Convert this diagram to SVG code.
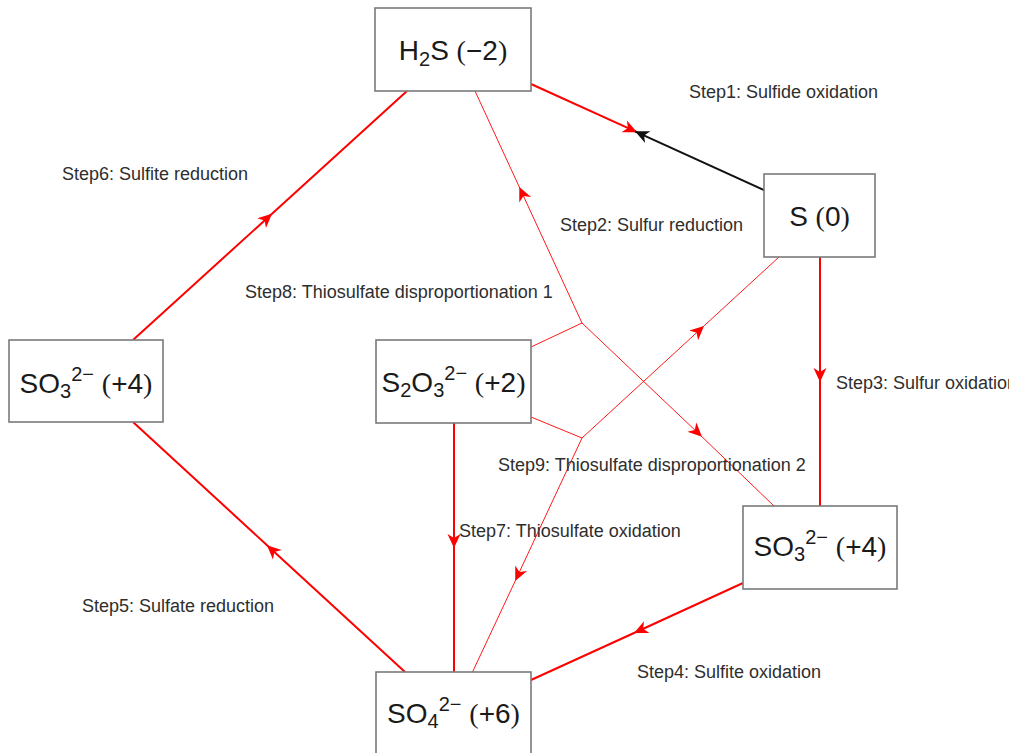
<svg xmlns="http://www.w3.org/2000/svg" width="1009" height="753" viewBox="0 0 1009 753">
<style>
.box{fill:#fff;stroke:#7a7a7a;stroke-width:1.6}
.nl{font-family:"Liberation Sans",Arial,sans-serif;font-size:28px;fill:#1a1a1a;text-anchor:middle}
.sub{font-size:20px}
.par{font-family:"Liberation Serif","Times New Roman",serif;font-weight:300}
.lbl{font-family:"Liberation Sans",Arial,sans-serif;font-size:18px;fill:#2e2e2e}
.thick{fill:none;stroke:#ff0000;stroke-width:2}
.thin{fill:none;stroke:#ff1a1a;stroke-width:1}
.blk{fill:none;stroke:#111;stroke-width:2}
</style>
<defs>
<marker id="ar" markerUnits="userSpaceOnUse" viewBox="-16 -8 18 16" refX="0" refY="0" markerWidth="18" markerHeight="16" orient="auto" overflow="visible">
<path d="M0,0 L-14,-6.5 L-10,0 L-14,6.5 Z" fill="#ff0000"/>
</marker>
<marker id="ak" markerUnits="userSpaceOnUse" viewBox="-16 -8 18 16" refX="0" refY="0" markerWidth="18" markerHeight="16" orient="auto" overflow="visible">
<path d="M0,0 L-14,-6.5 L-10,0 L-14,6.5 Z" fill="#111"/>
</marker>
</defs>
<rect width="1009" height="753" fill="#fff"/>
<g id="connectors">
<!-- Step1 -->
<line class="thick" x1="531" y1="84" x2="637" y2="132.2" marker-end="url(#ar)"/>
<line class="blk" x1="764" y1="190" x2="635" y2="131.3" marker-end="url(#ak)"/>
<!-- Step3 -->
<polyline class="thick" points="820,257 820,382 820,506" marker-mid="url(#ar)"/>
<!-- Step4 -->
<polyline class="thick" points="743,583 634,633 531,680" marker-mid="url(#ar)"/>
<!-- Step5 -->
<polyline class="thick" points="405,672 267,545.2 133,422" marker-mid="url(#ar)"/>
<!-- Step6 -->
<polyline class="thick" points="133,340 272,213.7 407,91" marker-mid="url(#ar)"/>
<!-- Step7 -->
<polyline class="thick" points="454,423 454,548 454,672" marker-mid="url(#ar)"/>
<!-- Step8 -->
<line class="thin" x1="531" y1="347" x2="582" y2="323"/>
<polyline class="thin" points="582,323 519.3,187 475,91" marker-mid="url(#ar)"/>
<polyline class="thin" points="582,323 702,436.8 774,506" marker-mid="url(#ar)"/>
<!-- Step9 -->
<line class="thin" x1="531" y1="417" x2="582" y2="438"/>
<polyline class="thin" points="582,438 704,325.9 779,257" marker-mid="url(#ar)"/>
<polyline class="thin" points="582,438 515.2,581 472.5,672" marker-mid="url(#ar)"/>
</g>
<g id="n-h2s">
<rect class="box" x="375" y="8" width="156" height="83"/>
<text class="nl" x="453" y="60">H<tspan class="sub" dy="6">2</tspan><tspan dy="-6">S </tspan><tspan class="par">(</tspan>−2<tspan class="par">)</tspan></text>
</g>
<g id="n-s0">
<rect class="box" x="764" y="174" width="111" height="83"/>
<text class="nl" x="819.5" y="226">S <tspan class="par">(</tspan>0<tspan class="par">)</tspan></text>
</g>
<g id="n-so3-left">
<rect class="box" x="9" y="340" width="154" height="82"/>
<text class="nl" x="86" y="393">SO<tspan class="sub" dy="5">3</tspan><tspan class="sub" dy="-17">2−</tspan><tspan dy="12"> </tspan><tspan class="par">(</tspan>+4<tspan class="par">)</tspan></text>
</g>
<g id="n-s2o3">
<rect class="box" x="376" y="340" width="155" height="83"/>
<text class="nl" x="453.5" y="392">S<tspan class="sub" dy="5">2</tspan><tspan dy="-5">O</tspan><tspan class="sub" dy="5">3</tspan><tspan class="sub" dy="-17">2−</tspan><tspan dy="12"> </tspan><tspan class="par">(</tspan>+2<tspan class="par">)</tspan></text>
</g>
<g id="n-so3-right">
<rect class="box" x="743" y="506" width="154" height="83"/>
<text class="nl" x="820" y="556">SO<tspan class="sub" dy="5">3</tspan><tspan class="sub" dy="-17">2−</tspan><tspan dy="12"> </tspan><tspan class="par">(</tspan>+4<tspan class="par">)</tspan></text>
</g>
<g id="n-so4">
<rect class="box" x="376" y="672" width="155" height="90"/>
<text class="nl" x="453.5" y="723">SO<tspan class="sub" dy="5">4</tspan><tspan class="sub" dy="-17">2−</tspan><tspan dy="12"> </tspan><tspan class="par">(</tspan>+6<tspan class="par">)</tspan></text>
</g>
<g id="labels">
<text class="lbl" x="689" y="98">Step1: Sulfide oxidation</text>
<text class="lbl" x="560" y="231">Step2: Sulfur reduction</text>
<text class="lbl" x="836" y="389">Step3: Sulfur oxidation</text>
<text class="lbl" x="637" y="678">Step4: Sulfite oxidation</text>
<text class="lbl" x="82" y="612">Step5: Sulfate reduction</text>
<text class="lbl" x="62" y="180">Step6: Sulfite reduction</text>
<text class="lbl" x="459" y="537">Step7: Thiosulfate oxidation</text>
<text class="lbl" x="245" y="298">Step8: Thiosulfate disproportionation 1</text>
<text class="lbl" x="498" y="471">Step9: Thiosulfate disproportionation 2</text>
</g>
</svg>
